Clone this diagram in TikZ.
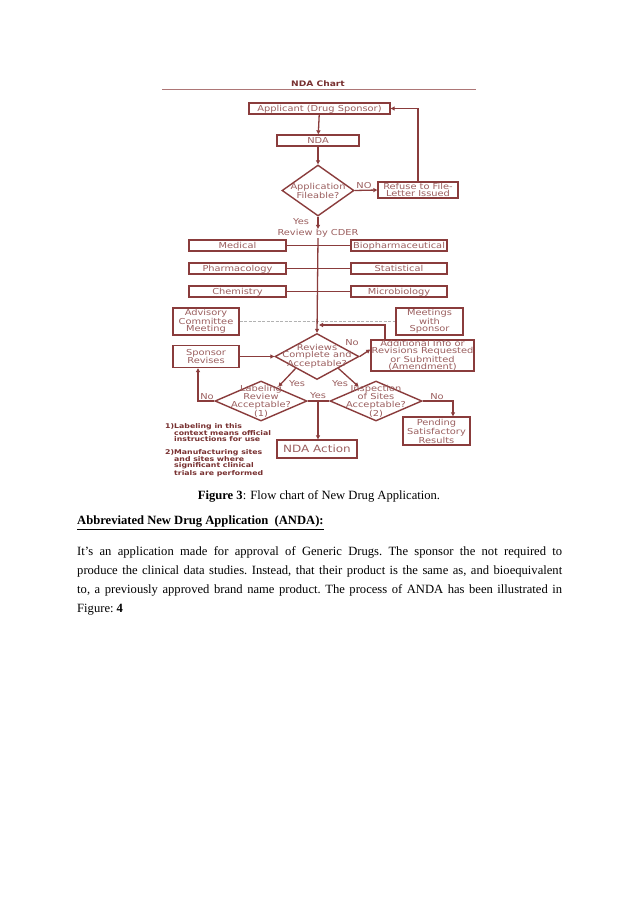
\documentclass[tikz,border=0pt]{standalone}
\usepackage{fontspec}
\setmainfont{Liberation Serif}
\newfontfamily\chartfont[FakeStretch=1.2]{DejaVu Sans}
\usetikzlibrary{shapes.geometric,arrows.meta}
\definecolor{maroon}{RGB}{138,60,60}
\definecolor{boxtext}{RGB}{155,95,95}
\definecolor{darktext}{RGB}{120,48,48}
\tikzset{
  box/.style={draw=maroon,line width=1.4pt,inner sep=0pt,align=center,
    text=boxtext,font=\chartfont\fontsize{8.2}{7.4}\selectfont},
  sbox/.style={draw=maroon,line width=1.4pt,inner sep=0pt,
    text height=6pt,text depth=0.5pt,
    text=boxtext,font=\chartfont\fontsize{8.2}{7.4}\selectfont},
  dia/.style={draw=maroon,line width=1.4pt,diamond,inner sep=0pt},
  diatext/.style={inner sep=0pt,align=center,text=boxtext,
    font=\chartfont\fontsize{8.2}{7.2}\selectfont},
  lab/.style={inner sep=0pt,text=boxtext,font=\chartfont\fontsize{8.2}{7.4}\selectfont},
  conn/.style={draw=maroon,line width=1.3pt},
  arr/.style={conn,-{Triangle[length=4pt,width=4pt]}},
  note/.style={inner sep=0pt,align=left,text=darktext,
    font=\chartfont\bfseries\fontsize{6.5}{6.3}\selectfont},
}
\begin{document}
\begin{tikzpicture}[x=1pt,y=-1pt]
\useasboundingbox[fill=white] (0,0) rectangle (638,903);

% title
\node[inner sep=0pt,text=darktext,font=\chartfont\bfseries\fontsize{7.6}{8}\selectfont] (title) at (318,84) {NDA Chart};
\coordinate (tl) at (162,89);
\coordinate (tr) at (476,89);
\draw[draw=maroon!70,line width=0.9pt] (tl) -- (tr);

% top part
\node[sbox,minimum width=141pt,minimum height=11pt] (app) at (319.5,108.5) {Applicant (Drug Sponsor)};
\node[sbox,minimum width=82pt,minimum height=11pt] (nda) at (318,140.5) {NDA};
\node[dia,minimum width=72pt,minimum height=51pt] (file) at (318,190.5) {};
\node[diatext] (filet) at (318,190.5) {Application\\Fileable?};
\node[box,minimum width=80pt,minimum height=16pt] (refuse) at (418,190) {Refuse to File-\\Letter Issued};
\node[lab] (no1) at (364,185.5) {NO};
\node[lab] (yes1) at (301,222) {Yes};
\node[lab,fill=white,inner sep=0.5pt] (cder) at (318,233.5) {Review by CDER};

\draw[arr] (app) -- (nda);
\draw[arr] (nda) -- (file);
\draw[arr] (file.east) -- (refuse.west);
\draw[arr] (refuse.north) |- (app.east);
\draw[arr] (file.south) -- (cder.north);

% review disciplines
\node[sbox,minimum width=97pt,minimum height=11pt] (med) at (237.5,245.5) {Medical};
\node[sbox,minimum width=97pt,minimum height=11pt] (pharm) at (237.5,268.5) {Pharmacology};
\node[sbox,minimum width=97pt,minimum height=11pt] (chem) at (237.5,291.5) {Chemistry};
\node[sbox,minimum width=96pt,minimum height=11pt] (bio) at (399,245.5) {Biopharmaceutical};
\node[sbox,minimum width=96pt,minimum height=11pt] (stat) at (399,268.5) {Statistical};
\node[sbox,minimum width=96pt,minimum height=11pt] (micro) at (399,291.5) {Microbiology};

\node[box,minimum width=66pt,minimum height=27pt] (adv) at (206,321.5) {Advisory\\Committee\\Meeting};
\node[box,minimum width=67pt,minimum height=27pt] (meet) at (429.5,321.5) {Meetings\\with\\Sponsor};
\draw[gray!60,line width=0.8pt,dash pattern=on 3pt off 1.5pt] (adv.east) -- (meet.west);

% reviews diamond
\node[dia,minimum width=84pt,minimum height=46pt] (rev) at (317,356.5) {};
\node[diatext] (revt) at (317,356.5) {Reviews\\Complete and\\Acceptable?};

\draw[arr] (cder.south) -- (rev.north);
\draw[conn] (med.east) -- (bio.west);
\draw[conn] (pharm.east) -- (stat.west);
\draw[conn] (chem.east) -- (micro.west);

\node[box,minimum width=103pt,minimum height=29pt] (add) at (422.5,355.5) {Additional Info or\\Revisions Requested\\or Submitted\\(Amendment)};
\node[lab] (no2) at (352,343) {No};
\draw[arr] (rev.east) -- ([yshift=6pt]add.west);
\coordinate (fbin) at (319,325);
\draw[arr] ([xshift=-37.5pt]add.north) |- (fbin);

\node[box,minimum width=66pt,minimum height=22pt] (spons) at (206,356.5) {Sponsor\\Revises};
\draw[arr] (spons.east) -- (rev.west);

% lower diamonds
\node[dia,minimum width=92pt,minimum height=40pt] (labd) at (261,401) {};
\node[diatext] (labt) at (261,401) {Labeling\\Review\\Acceptable?\\(1)};
\node[dia,minimum width=92pt,minimum height=40pt] (insp) at (376,401) {};
\node[diatext] (inspt) at (376,401) {Inspection\\of Sites\\Acceptable?\\(2)};

\node[lab] (yes2) at (297,384) {Yes};
\node[lab] (yes3) at (340,384) {Yes};
\draw[arr] (rev.south west) -- ([xshift=-6pt,yshift=4pt]labd.north east);
\draw[arr] (rev.south east) -- ([xshift=6pt,yshift=4pt]insp.north west);

\node[lab] (no3) at (207,397) {No};
\draw[arr] (labd.west) -| ([xshift=-8pt]spons.south);

\node[lab] (yes4) at (318,396) {Yes};
\draw[conn] (labd.east) -- (insp.west);
\node[sbox,minimum width=80pt,minimum height=18pt,text height=7.3pt,font=\chartfont\fontsize{10}{10}\selectfont] (action) at (317,449) {NDA Action};
\coordinate (ya) at (318,401);
\draw[arr] (ya) -- (ya |- action.north);

\node[box,minimum width=67pt,minimum height=28pt] (pend) at (436.5,431) {Pending\\Satisfactory\\Results};
\node[lab] (no4) at (437,397) {No};
\draw[arr] (insp.east) -| ([xshift=16.5pt]pend.north);

% footnotes
\node[note,anchor=north west] (n1) at (165,423) {1)Labeling in this\\\phantom{1)}context means official\\\phantom{1)}instructions for use};
\node[note,anchor=north west] (n2) at (165,449) {2)Manufacturing sites\\\phantom{2)}and sites where\\\phantom{2)}significant clinical\\\phantom{2)}trials are performed};

% text below
\node[inner sep=0pt,font=\fontsize{12.6}{15}\selectfont] (cap) at (319,496) {\textbf{Figure 3}: Flow chart of New Drug Application.};
\node[inner sep=0pt,anchor=west,font=\fontsize{12.6}{15}\selectfont\bfseries] (head) at (77,523) {\underline{Abbreviated New Drug Application\ \ (ANDA):}};
\node[inner sep=0pt,anchor=north west,text width=485pt,align=justify,font=\fontsize{12.6}{19}\selectfont] (para) at (77,546) {\frenchspacing\hyphenpenalty=10000 It's an application made for approval of Generic Drugs. The sponsor the not required to\linebreak produce the clinical data studies. Instead, that their product is the same as, and bioequivalent\linebreak to, a previously approved brand name product. The process of ANDA has been illustrated in\linebreak Figure: \textbf{4}};
\end{tikzpicture}
\end{document}
